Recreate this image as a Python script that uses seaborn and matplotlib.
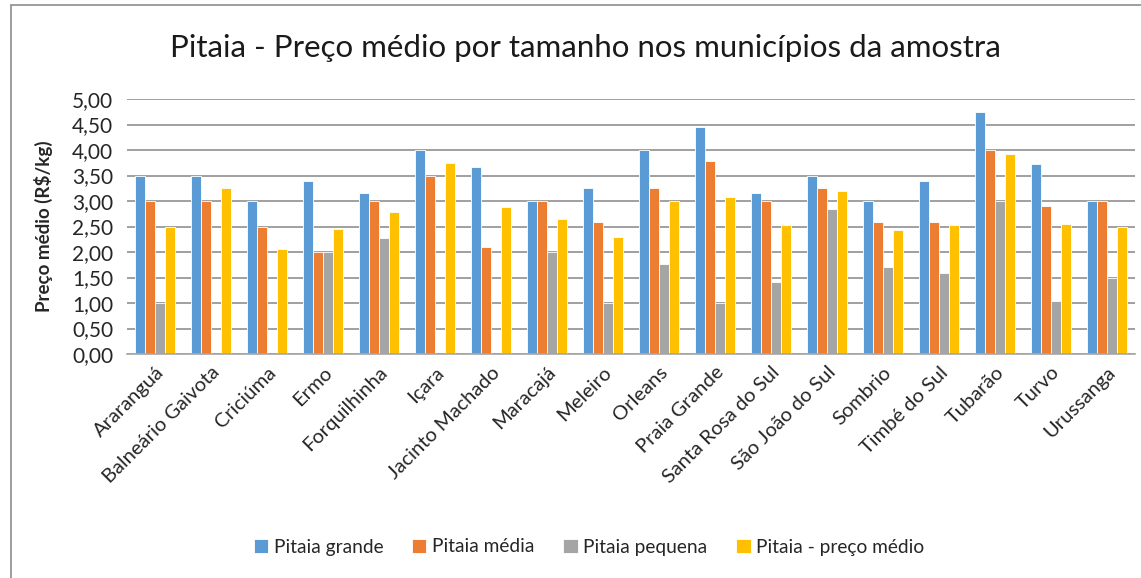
import matplotlib
matplotlib.use("Agg")
import matplotlib.pyplot as plt
import seaborn as sns
import pandas as pd
import numpy as np
from matplotlib.patches import Rectangle
from matplotlib.ticker import FuncFormatter, MultipleLocator

municipios = ["Araranguá", "Balneário Gaivota", "Criciúma", "Ermo", "Forquilhinha",
              "Içara", "Jacinto Machado", "Maracajá", "Meleiro", "Orleans",
              "Praia Grande", "Santa Rosa do Sul", "São João do Sul", "Sombrio",
              "Timbé do Sul", "Tubarão", "Turvo", "Urussanga"]
grande = [3.50, 3.50, 3.00, 3.40, 3.15, 4.00, 3.66, 3.00, 3.25, 4.00,
          4.45, 3.15, 3.50, 3.00, 3.40, 4.74, 3.72, 3.00]
media = [3.00, 3.00, 2.50, 2.00, 3.00, 3.50, 2.10, 3.00, 2.59, 3.25,
         3.79, 3.00, 3.26, 2.59, 2.59, 4.00, 2.90, 3.00]
pequena = [1.00, 0.00, 0.00, 2.00, 2.28, 0.00, 0.00, 2.00, 1.00, 1.76,
           1.00, 1.41, 2.84, 1.70, 1.59, 3.00, 1.03, 1.50]
preco_medio = [2.50, 3.25, 2.06, 2.46, 2.79, 3.74, 2.88, 2.65, 2.29, 3.00,
               3.07, 2.52, 3.19, 2.44, 2.52, 3.92, 2.55, 2.50]
series = ["Pitaia grande", "Pitaia média", "Pitaia pequena", "Pitaia - preço médio"]
cores = ["#5B9BD5", "#ED7D31", "#A5A5A5", "#FFC000"]

df = pd.DataFrame({"Município": municipios * 4,
                   "Série": [s for s in series for _ in municipios],
                   "Valor": grande + media + pequena + preco_medio})

sns.set_theme(style="white")
plt.rcParams["font.family"] = ["Lato", "DejaVu Sans"]

fig = plt.figure(figsize=(11.41, 5.78), dpi=100)
ax = fig.add_axes([127 / 1141, 1 - 354 / 578, (1135 - 127) / 1141, (354 - 99) / 578])

sns.barplot(data=df, x="Município", y="Valor", hue="Série", palette=cores,
            width=0.72, gap=0.0, ax=ax, edgecolor="white", linewidth=0.6,
            saturation=1)

ax.set_ylim(0, 5)
ax.set_xlim(-0.5, len(municipios) - 0.5)
ax.yaxis.set_major_locator(MultipleLocator(0.5))
ax.yaxis.set_major_formatter(FuncFormatter(lambda v, p: f"{v:.2f}".replace(".", ",")))
ax.grid(axis="y", color="#999999", linewidth=1.3)
ax.set_axisbelow(True)
for s in ["top", "right", "left"]:
    ax.spines[s].set_visible(False)
ax.spines["bottom"].set_color("#A6A6A6")
ax.spines["bottom"].set_linewidth(1.2)

ax.set_xticks(np.arange(len(municipios)))
ax.set_xticklabels(municipios, rotation=45, ha="right", rotation_mode="anchor",
                   fontsize=14.5, color="#262626")
ax.tick_params(axis="x", length=0, pad=7)
ax.set_xticks(np.arange(-0.5, len(municipios)), minor=True)
ax.tick_params(axis="x", which="minor", length=6, color="#A6A6A6", width=1.2)
ax.tick_params(axis="y", labelsize=15, labelcolor="#262626", length=0, pad=10)

ax.set_xlabel("")
ax.set_ylabel("Preço médio (R$/kg)", fontsize=13.5, fontweight="bold", labelpad=14)

fig.suptitle("Pitaia - Preço médio por tamanho nos municípios da amostra",
             fontsize=22.5, color="#1a1a1a", x=585 / 1141, y=1 - 48 / 578, va="center")

handles, labels = ax.get_legend_handles_labels()
ax.legend_.remove()
fig.legend(handles, labels, loc="center", bbox_to_anchor=(589 / 1141, 1 - 547 / 578),
           ncol=4, frameon=False, fontsize=13.8, handlelength=0.75, handleheight=0.75,
           handletextpad=0.3, columnspacing=1.5)

fig.patches.append(Rectangle((11 / 1141, -0.01), 1.1, 1 - 5 / 578 + 0.01,
                             transform=fig.transFigure, fill=False,
                             edgecolor="#8C8C8C", linewidth=1.2))

fig.savefig("out.png", dpi=100)
